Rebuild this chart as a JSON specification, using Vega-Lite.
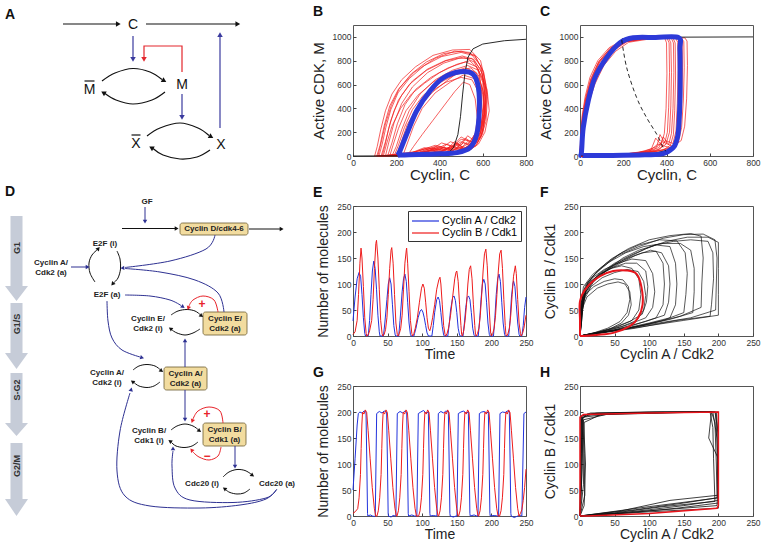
{
"$schema":"https://vega.github.io/schema/vega-lite/v6.json",
"background":"white",
"padding":{"left":0,"top":4,"right":0,"bottom":0},
"columns":3,
"bounds":"flush",
"spacing":{"row":50,"column":54},
"resolve":{"scale":{"color":"independent"},"legend":{"color":"independent"}},
"datasets":{
"aLin":[{"k":1,"c":"flow","x":63,"y":23},{"k":1,"c":"flow","x":117,"y":23},{"k":2,"c":"flow","x":146,"y":23},{"k":2,"c":"flow","x":236,"y":23},{"k":3,"c":"act","x":133,"y":35},{"k":3,"c":"act","x":133,"y":57},{"k":4,"c":"fb","x":182,"y":71},{"k":4,"c":"fb","x":182,"y":45},{"k":4,"c":"fb","x":144,"y":45},{"k":4,"c":"fb","x":144,"y":57},{"k":5,"c":"act","x":182,"y":93},{"k":5,"c":"act","x":182,"y":115},{"k":6,"c":"act","x":220,"y":127},{"k":6,"c":"act","x":220,"y":35},{"k":7,"c":"flow","x":84.5,"y":80},{"k":7,"c":"flow","x":94.5,"y":80},{"k":8,"c":"flow","x":131.5,"y":134},{"k":8,"c":"flow","x":140.5,"y":134}],
"aCur":[{"k":1,"c":"flow","x":102,"y":80},{"k":1,"c":"flow","x":115,"y":72},{"k":1,"c":"flow","x":133,"y":67.5},{"k":1,"c":"flow","x":150,"y":71},{"k":1,"c":"flow","x":162,"y":78.5},{"k":2,"c":"flow","x":165,"y":91},{"k":2,"c":"flow","x":152,"y":99},{"k":2,"c":"flow","x":133,"y":103},{"k":2,"c":"flow","x":116,"y":99},{"k":2,"c":"flow","x":105,"y":92.5},{"k":3,"c":"flow","x":147,"y":135},{"k":3,"c":"flow","x":160,"y":127},{"k":3,"c":"flow","x":180,"y":122},{"k":3,"c":"flow","x":198,"y":127},{"k":3,"c":"flow","x":209,"y":134.5},{"k":4,"c":"flow","x":210,"y":149},{"k":4,"c":"flow","x":197,"y":156},{"k":4,"c":"flow","x":180,"y":158},{"k":4,"c":"flow","x":163,"y":154},{"k":4,"c":"flow","x":153,"y":147.5}],
"aHd":[{"c":"flow","x":117.5,"y":23,"a":90},{"c":"flow","x":237,"y":23,"a":90},{"c":"act","x":133,"y":57.5,"a":180},{"c":"fb","x":144,"y":57.5,"a":180},{"c":"act","x":182,"y":115.5,"a":180},{"c":"act","x":220,"y":34.5,"a":0},{"c":"flow","x":163.5,"y":79.5,"a":120},{"c":"flow","x":104,"y":92,"a":300},{"c":"flow","x":210.5,"y":135.5,"a":120},{"c":"flow","x":152,"y":147,"a":300}],
"aTx":[{"t":"C","x":133,"y":28},{"t":"M","x":89.5,"y":93},{"t":"M","x":182,"y":88},{"t":"X","x":136,"y":147},{"t":"X","x":221,"y":147.5}],
"dPh":[{"k":"G1","y":215,"x":10.5,"x2":22.5},{"k":"G1","y":285,"x":10.5,"x2":22.5},{"k":"G1","y":285,"x":5,"x2":28},{"k":"G1","y":300,"x":16.5,"x2":16.5},{"k":"G1/S","y":302,"x":10.5,"x2":22.5},{"k":"G1/S","y":352,"x":10.5,"x2":22.5},{"k":"G1/S","y":352,"x":5,"x2":28},{"k":"G1/S","y":368,"x":16.5,"x2":16.5},{"k":"S-G2","y":372,"x":10.5,"x2":22.5},{"k":"S-G2","y":422,"x":10.5,"x2":22.5},{"k":"S-G2","y":422,"x":5,"x2":28},{"k":"S-G2","y":435,"x":16.5,"x2":16.5},{"k":"G2/M","y":442,"x":10.5,"x2":22.5},{"k":"G2/M","y":498,"x":10.5,"x2":22.5},{"k":"G2/M","y":498,"x":5,"x2":28},{"k":"G2/M","y":515,"x":16.5,"x2":16.5}],
"dBox":[{"x":180,"x2":248,"y":222,"y2":234},{"x":203,"x2":247,"y":311,"y2":334},{"x":164,"x2":207,"y":366,"y2":389},{"x":203,"x2":246,"y":422,"y2":445}],
"dLin":[{"k":1,"c":"act","x":145,"y":206},{"k":1,"c":"act","x":145,"y":219},{"k":2,"c":"flow","x":122,"y":227.5},{"k":2,"c":"flow","x":175,"y":227.5},{"k":3,"c":"flow","x":249,"y":228},{"k":3,"c":"flow","x":280,"y":228},{"k":4,"c":"act","x":71,"y":266},{"k":4,"c":"act","x":86,"y":266},{"k":5,"c":"act","x":185,"y":366},{"k":5,"c":"act","x":185,"y":341},{"k":6,"c":"act","x":185,"y":389},{"k":6,"c":"act","x":185,"y":417},{"k":7,"c":"act","x":235,"y":445},{"k":7,"c":"act","x":235,"y":464}],
"dCur":[{"k":8,"c":"act","x":215,"y":234},{"k":8,"c":"act","x":206,"y":248},{"k":8,"c":"act","x":170,"y":260},{"k":8,"c":"act","x":125,"y":266.5},
{"k":9,"c":"act","x":224,"y":311},{"k":9,"c":"act","x":218,"y":292},{"k":9,"c":"act","x":195,"y":279},{"k":9,"c":"act","x":160,"y":271},{"k":9,"c":"act","x":125,"y":267.5},
{"k":10,"c":"act","x":125,"y":294},{"k":10,"c":"act","x":150,"y":295},{"k":10,"c":"act","x":170,"y":299},{"k":10,"c":"act","x":181,"y":304.5},
{"k":11,"c":"fb","x":218,"y":311},{"k":11,"c":"fb","x":214,"y":299},{"k":11,"c":"fb","x":203,"y":295},{"k":11,"c":"fb","x":193,"y":299},{"k":11,"c":"fb","x":189,"y":305},
{"k":12,"c":"flow","x":95,"y":281},{"k":12,"c":"flow","x":90,"y":272},{"k":12,"c":"flow","x":89,"y":262},{"k":12,"c":"flow","x":92,"y":254},{"k":12,"c":"flow","x":97,"y":249},
{"k":13,"c":"flow","x":117,"y":250},{"k":13,"c":"flow","x":120,"y":258},{"k":13,"c":"flow","x":120.5,"y":268},{"k":13,"c":"flow","x":118,"y":277},{"k":13,"c":"flow","x":114,"y":281.5},
{"k":14,"c":"flow","x":171,"y":314},{"k":14,"c":"flow","x":178,"y":310},{"k":14,"c":"flow","x":187,"y":308.5},{"k":14,"c":"flow","x":195,"y":310},{"k":14,"c":"flow","x":200,"y":313.5},
{"k":15,"c":"flow","x":200,"y":328},{"k":15,"c":"flow","x":193,"y":332},{"k":15,"c":"flow","x":185,"y":334},{"k":15,"c":"flow","x":177,"y":332},{"k":15,"c":"flow","x":172,"y":329},
{"k":16,"c":"act","x":107,"y":300},{"k":16,"c":"act","x":108,"y":320},{"k":16,"c":"act","x":112,"y":337},{"k":16,"c":"act","x":122,"y":349},{"k":16,"c":"act","x":140,"y":356},
{"k":17,"c":"flow","x":133,"y":369},{"k":17,"c":"flow","x":139,"y":365},{"k":17,"c":"flow","x":147,"y":363.5},{"k":17,"c":"flow","x":155,"y":365},{"k":17,"c":"flow","x":160,"y":368.5},
{"k":18,"c":"flow","x":160,"y":381},{"k":18,"c":"flow","x":154,"y":385},{"k":18,"c":"flow","x":147,"y":386.5},{"k":18,"c":"flow","x":139,"y":385},{"k":18,"c":"flow","x":134,"y":381.5},
{"k":19,"c":"flow","x":171,"y":429},{"k":19,"c":"flow","x":177,"y":425},{"k":19,"c":"flow","x":185,"y":423},{"k":19,"c":"flow","x":193,"y":425},{"k":19,"c":"flow","x":198,"y":428.5},
{"k":20,"c":"flow","x":198,"y":441},{"k":20,"c":"flow","x":192,"y":445},{"k":20,"c":"flow","x":184,"y":446.5},{"k":20,"c":"flow","x":176,"y":445},{"k":20,"c":"flow","x":171.5,"y":441.5},
{"k":21,"c":"fb","x":223,"y":422},{"k":21,"c":"fb","x":220,"y":410},{"k":21,"c":"fb","x":209,"y":406},{"k":21,"c":"fb","x":198,"y":410},{"k":21,"c":"fb","x":193,"y":418},
{"k":22,"c":"fb","x":221,"y":446},{"k":22,"c":"fb","x":218,"y":455},{"k":22,"c":"fb","x":209,"y":459},{"k":22,"c":"fb","x":199,"y":456},{"k":22,"c":"fb","x":193,"y":451},
{"k":23,"c":"flow","x":223,"y":476},{"k":23,"c":"flow","x":229,"y":471},{"k":23,"c":"flow","x":237,"y":468.5},{"k":23,"c":"flow","x":245,"y":469.5},{"k":23,"c":"flow","x":251,"y":473},
{"k":24,"c":"flow","x":250,"y":488},{"k":24,"c":"flow","x":244,"y":492},{"k":24,"c":"flow","x":237,"y":493},{"k":24,"c":"flow","x":230,"y":491.5},{"k":24,"c":"flow","x":226,"y":489},
{"k":25,"c":"act","x":277,"y":488},{"k":25,"c":"act","x":266,"y":498},{"k":25,"c":"act","x":240,"y":504},{"k":25,"c":"act","x":200,"y":507},{"k":25,"c":"act","x":150,"y":505},{"k":25,"c":"act","x":125,"y":495},{"k":25,"c":"act","x":117,"y":470},{"k":25,"c":"act","x":120,"y":430},{"k":25,"c":"act","x":130,"y":392},
{"k":26,"c":"act","x":276,"y":489},{"k":26,"c":"act","x":266,"y":497},{"k":26,"c":"act","x":233,"y":501.5},{"k":26,"c":"act","x":190,"y":499},{"k":26,"c":"act","x":175,"y":487},{"k":26,"c":"act","x":172,"y":465},{"k":26,"c":"act","x":173,"y":450}],
"dHd":[{"c":"act","x":145,"y":220,"a":180},{"c":"flow","x":176,"y":227.5,"a":90},{"c":"flow","x":281,"y":228,"a":90},{"c":"act","x":87,"y":266,"a":90},{"c":"act","x":185,"y":340,"a":0},{"c":"act","x":185,"y":418,"a":180},{"c":"act","x":235,"y":465,"a":180},{"c":"act","x":123,"y":267,"a":265},{"c":"act","x":182.5,"y":305.5,"a":125},{"c":"fb","x":188.5,"y":306.5,"a":200},{"c":"flow","x":98,"y":248,"a":40},{"c":"flow","x":113,"y":282.5,"a":220},{"c":"flow","x":201,"y":314.5,"a":125},{"c":"flow","x":171,"y":328,"a":305},{"c":"act","x":141.5,"y":356.5,"a":105},{"c":"flow","x":161,"y":369.5,"a":125},{"c":"flow","x":133,"y":381,"a":305},{"c":"flow","x":199,"y":429.5,"a":125},{"c":"flow","x":170.5,"y":440.5,"a":305},{"c":"fb","x":192.5,"y":419.5,"a":200},{"c":"fb","x":192,"y":449.5,"a":320},{"c":"flow","x":252,"y":474,"a":125},{"c":"flow","x":225,"y":488,"a":305},{"c":"act","x":131,"y":389,"a":15},{"c":"act","x":173,"y":448,"a":0}],
"dTx":[{"t":"GF","x":147,"y":201},{"t":"Cyclin D/cdk4-6","x":214,"y":228},{"t":"E2F (i)","x":105,"y":243},{"t":"Cyclin A/","x":51,"y":262},{"t":"Cdk2 (a)","x":51,"y":272},{"t":"E2F (a)","x":107,"y":294},{"t":"Cyclin E/","x":148,"y":318},{"t":"Cdk2 (i)","x":148,"y":328},{"t":"Cyclin E/","x":225,"y":318},{"t":"Cdk2 (a)","x":225,"y":328},{"t":"Cyclin A/","x":107,"y":372},{"t":"Cdk2 (i)","x":107,"y":382},{"t":"Cyclin A/","x":185.5,"y":372.5},{"t":"Cdk2 (a)","x":185.5,"y":382.5},{"t":"Cyclin B/","x":149,"y":430},{"t":"Cdk1 (i)","x":149,"y":440},{"t":"Cyclin B/","x":224.5,"y":429},{"t":"Cdk1 (a)","x":224.5,"y":439},{"t":"Cdc20 (i)","x":202,"y":483},{"t":"Cdc20 (a)","x":277,"y":483}],
"dSym":[{"t":"+","x":202,"y":303},{"t":"+","x":207,"y":413},{"t":"−","x":207,"y":455}],
"dPl":[{"t":"G1","x":16.5,"y":247},{"t":"G1/S","x":16.5,"y":323},{"t":"S-G2","x":16.5,"y":389},{"t":"G2/M","x":16.5,"y":465}],
"bK":[{"x":0,"y":0},{"x":300,"y":2},{"x":400,"y":8},{"x":440,"y":25},{"x":465,"y":70},{"x":485,"y":180},{"x":497,"y":330},{"x":507,"y":520},{"x":518,"y":700},{"x":532,"y":830},{"x":555,"y":900},{"x":600,"y":940},{"x":700,"y":968},{"x":800,"y":980}],
"bB":[{"x":205,"y":5},{"x":217,"y":42},{"x":248,"y":182},{"x":294,"y":378},{"x":356,"y":546},{"x":418,"y":657},{"x":495,"y":708},{"x":556,"y":686},{"x":580,"y":573},{"x":584,"y":378},{"x":572,"y":182},{"x":541,"y":70},{"x":480,"y":28},{"x":400,"y":18},{"x":341,"y":14},{"x":260,"y":10},{"x":217,"y":8},{"x":205,"y":5}],
"bR":[
{"k":1,"x":110,"y":0},{"k":1,"x":125,"y":90},{"k":1,"x":145,"y":260},{"k":1,"x":170,"y":420},{"k":1,"x":210,"y":560},{"k":1,"x":280,"y":700},{"k":1,"x":380,"y":820},{"k":1,"x":470,"y":880},{"k":1,"x":540,"y":870},{"k":1,"x":590,"y":760},{"k":1,"x":610,"y":560},{"k":1,"x":600,"y":330},{"k":1,"x":580,"y":170},{"k":1,"x":550,"y":90},{"k":1,"x":500,"y":120},{"k":1,"x":450,"y":60},{"k":1,"x":380,"y":90},{"k":1,"x":300,"y":40},{"k":1,"x":220,"y":20},{"k":1,"x":150,"y":5},{"k":1,"x":110,"y":0},
{"k":2,"x":130,"y":0},{"k":2,"x":150,"y":120},{"k":2,"x":175,"y":300},{"k":2,"x":210,"y":470},{"k":2,"x":260,"y":600},{"k":2,"x":340,"y":720},{"k":2,"x":430,"y":800},{"k":2,"x":510,"y":830},{"k":2,"x":560,"y":790},{"k":2,"x":600,"y":650},{"k":2,"x":615,"y":450},{"k":2,"x":595,"y":250},{"k":2,"x":565,"y":130},{"k":2,"x":520,"y":70},{"k":2,"x":470,"y":100},{"k":2,"x":420,"y":40},{"k":2,"x":350,"y":70},{"k":2,"x":280,"y":30},{"k":2,"x":200,"y":10},{"k":2,"x":130,"y":0},
{"k":3,"x":160,"y":0},{"k":3,"x":180,"y":110},{"k":3,"x":205,"y":270},{"k":3,"x":240,"y":430},{"k":3,"x":290,"y":560},{"k":3,"x":360,"y":660},{"k":3,"x":440,"y":740},{"k":3,"x":520,"y":790},{"k":3,"x":570,"y":750},{"k":3,"x":600,"y":620},{"k":3,"x":605,"y":420},{"k":3,"x":590,"y":240},{"k":3,"x":560,"y":110},{"k":3,"x":510,"y":60},{"k":3,"x":460,"y":80},{"k":3,"x":400,"y":30},{"k":3,"x":330,"y":60},{"k":3,"x":260,"y":20},{"k":3,"x":190,"y":5},{"k":3,"x":160,"y":0},
{"k":4,"x":180,"y":0},{"k":4,"x":200,"y":80},{"k":4,"x":225,"y":220},{"k":4,"x":260,"y":380},{"k":4,"x":310,"y":520},{"k":4,"x":380,"y":640},{"k":4,"x":460,"y":720},{"k":4,"x":530,"y":760},{"k":4,"x":580,"y":720},{"k":4,"x":620,"y":560},{"k":4,"x":630,"y":380},{"k":4,"x":610,"y":200},{"k":4,"x":580,"y":100},{"k":4,"x":540,"y":50},{"k":4,"x":490,"y":70},{"k":4,"x":430,"y":25},{"k":4,"x":360,"y":50},{"k":4,"x":290,"y":15},{"k":4,"x":210,"y":5},{"k":4,"x":180,"y":0},
{"k":5,"x":100,"y":0},{"k":5,"x":112,"y":80},{"k":5,"x":128,"y":220},{"k":5,"x":150,"y":380},{"k":5,"x":180,"y":520},{"k":5,"x":225,"y":640},{"k":5,"x":290,"y":750},{"k":5,"x":370,"y":845},{"k":5,"x":460,"y":890},{"k":5,"x":540,"y":895},{"k":5,"x":590,"y":800},{"k":5,"x":615,"y":600},{"k":5,"x":612,"y":380},{"k":5,"x":590,"y":200},{"k":5,"x":555,"y":120},{"k":5,"x":500,"y":140},{"k":5,"x":450,"y":60},{"k":5,"x":380,"y":80},{"k":5,"x":300,"y":30},{"k":5,"x":200,"y":10},{"k":5,"x":100,"y":0},
{"k":6,"x":200,"y":0},{"k":6,"x":220,"y":100},{"k":6,"x":250,"y":260},{"k":6,"x":300,"y":420},{"k":6,"x":360,"y":540},{"k":6,"x":430,"y":620},{"k":6,"x":500,"y":660},{"k":6,"x":550,"y":640},{"k":6,"x":580,"y":540},{"k":6,"x":590,"y":380},{"k":6,"x":575,"y":220},{"k":6,"x":540,"y":110},{"k":6,"x":500,"y":70},{"k":6,"x":450,"y":50},{"k":6,"x":400,"y":80},{"k":6,"x":340,"y":30},{"k":6,"x":260,"y":15},{"k":6,"x":200,"y":0},
{"k":7,"x":140,"y":0},{"k":7,"x":155,"y":100},{"k":7,"x":180,"y":250},{"k":7,"x":220,"y":400},{"k":7,"x":270,"y":520},{"k":7,"x":330,"y":610},{"k":7,"x":400,"y":700},{"k":7,"x":480,"y":770},{"k":7,"x":540,"y":800},{"k":7,"x":580,"y":730},{"k":7,"x":595,"y":560},{"k":7,"x":590,"y":360},{"k":7,"x":570,"y":200},{"k":7,"x":540,"y":120},{"k":7,"x":500,"y":160},{"k":7,"x":460,"y":80},{"k":7,"x":410,"y":110},{"k":7,"x":350,"y":40},{"k":7,"x":260,"y":20},{"k":7,"x":170,"y":5},{"k":7,"x":140,"y":0},
{"k":8,"x":230,"y":0},{"k":8,"x":250,"y":100},{"k":8,"x":280,"y":250},{"k":8,"x":320,"y":400},{"k":8,"x":380,"y":530},{"k":8,"x":450,"y":620},{"k":8,"x":510,"y":680},{"k":8,"x":560,"y":650},{"k":8,"x":590,"y":520},{"k":8,"x":600,"y":360},{"k":8,"x":590,"y":200},{"k":8,"x":560,"y":100},{"k":8,"x":520,"y":60},{"k":8,"x":470,"y":40},{"k":8,"x":420,"y":70},{"k":8,"x":360,"y":25},{"k":8,"x":280,"y":10},{"k":8,"x":230,"y":0},
{"k":9,"x":120,"y":0},{"k":9,"x":135,"y":100},{"k":9,"x":152,"y":240},{"k":9,"x":175,"y":390},{"k":9,"x":208,"y":530},{"k":9,"x":260,"y":650},{"k":9,"x":330,"y":760},{"k":9,"x":410,"y":835},{"k":9,"x":500,"y":870},{"k":9,"x":565,"y":840},{"k":9,"x":605,"y":700},{"k":9,"x":622,"y":500},{"k":9,"x":615,"y":290},{"k":9,"x":590,"y":150},{"k":9,"x":550,"y":80},{"k":9,"x":510,"y":110},{"k":9,"x":460,"y":40},{"k":9,"x":390,"y":70},{"k":9,"x":310,"y":25},{"k":9,"x":200,"y":8},{"k":9,"x":120,"y":0},
{"k":10,"x":250,"y":0},{"k":10,"x":280,"y":80},{"k":10,"x":320,"y":180},{"k":10,"x":370,"y":300},{"k":10,"x":420,"y":420},{"k":10,"x":470,"y":540},{"k":10,"x":510,"y":620},{"k":10,"x":540,"y":600},{"k":10,"x":565,"y":480},{"k":10,"x":575,"y":320},{"k":10,"x":565,"y":180},{"k":10,"x":540,"y":90},{"k":10,"x":500,"y":50},{"k":10,"x":450,"y":80},{"k":10,"x":400,"y":30},{"k":10,"x":330,"y":20},{"k":10,"x":250,"y":0},
{"k":11,"x":170,"y":0},{"k":11,"x":185,"y":90},{"k":11,"x":210,"y":230},{"k":11,"x":245,"y":380},{"k":11,"x":300,"y":510},{"k":11,"x":370,"y":620},{"k":11,"x":450,"y":700},{"k":11,"x":520,"y":740},{"k":11,"x":570,"y":700},{"k":11,"x":600,"y":560},{"k":11,"x":610,"y":380},{"k":11,"x":600,"y":210},{"k":11,"x":575,"y":110},{"k":11,"x":530,"y":170},{"k":11,"x":500,"y":90},{"k":11,"x":450,"y":120},{"k":11,"x":400,"y":50},{"k":11,"x":330,"y":70},{"k":11,"x":260,"y":20},{"k":11,"x":170,"y":0},
{"k":12,"x":150,"y":0},{"k":12,"x":165,"y":110},{"k":12,"x":190,"y":280},{"k":12,"x":225,"y":440},{"k":12,"x":275,"y":580},{"k":12,"x":345,"y":700},{"k":12,"x":420,"y":780},{"k":12,"x":490,"y":820},{"k":12,"x":550,"y":820},{"k":12,"x":590,"y":730},{"k":12,"x":615,"y":560},{"k":12,"x":615,"y":360},{"k":12,"x":600,"y":190},{"k":12,"x":570,"y":90},{"k":12,"x":530,"y":40},{"k":12,"x":480,"y":110},{"k":12,"x":430,"y":30},{"k":12,"x":360,"y":50},{"k":12,"x":280,"y":15},{"k":12,"x":150,"y":0},
{"k":13,"x":115,"y":0},{"k":13,"x":130,"y":110},{"k":13,"x":150,"y":270},{"k":13,"x":178,"y":430},{"k":13,"x":215,"y":570},{"k":13,"x":270,"y":690},{"k":13,"x":340,"y":790},{"k":13,"x":420,"y":860},{"k":13,"x":500,"y":880},{"k":13,"x":560,"y":850},{"k":13,"x":600,"y":720},{"k":13,"x":618,"y":520},{"k":13,"x":612,"y":320},{"k":13,"x":592,"y":170},{"k":13,"x":560,"y":100},{"k":13,"x":520,"y":150},{"k":13,"x":480,"y":70},{"k":13,"x":430,"y":100},{"k":13,"x":370,"y":40},{"k":13,"x":290,"y":20},{"k":13,"x":180,"y":5},{"k":13,"x":115,"y":0},
{"k":14,"x":190,"y":0},{"k":14,"x":210,"y":90},{"k":14,"x":238,"y":240},{"k":14,"x":275,"y":390},{"k":14,"x":325,"y":510},{"k":14,"x":395,"y":610},{"k":14,"x":470,"y":680},{"k":14,"x":530,"y":710},{"k":14,"x":575,"y":660},{"k":14,"x":600,"y":520},{"k":14,"x":605,"y":350},{"k":14,"x":590,"y":190},{"k":14,"x":560,"y":90},{"k":14,"x":520,"y":40},{"k":14,"x":480,"y":90},{"k":14,"x":440,"y":40},{"k":14,"x":380,"y":60},{"k":14,"x":310,"y":20},{"k":14,"x":230,"y":5},{"k":14,"x":190,"y":0},
{"k":15,"x":135,"y":0},{"k":15,"x":148,"y":90},{"k":15,"x":165,"y":230},{"k":15,"x":190,"y":380},{"k":15,"x":225,"y":510},{"k":15,"x":275,"y":630},{"k":15,"x":345,"y":730},{"k":15,"x":425,"y":800},{"k":15,"x":505,"y":840},{"k":15,"x":560,"y":810},{"k":15,"x":598,"y":690},{"k":15,"x":612,"y":500},{"k":15,"x":605,"y":300},{"k":15,"x":585,"y":160},{"k":15,"x":555,"y":90},{"k":15,"x":515,"y":60},{"k":15,"x":470,"y":120},{"k":15,"x":430,"y":50},{"k":15,"x":370,"y":70},{"k":15,"x":300,"y":25},{"k":15,"x":200,"y":6},{"k":15,"x":135,"y":0},
{"k":16,"x":210,"y":0},{"k":16,"x":235,"y":110},{"k":16,"x":265,"y":270},{"k":16,"x":310,"y":420},{"k":16,"x":370,"y":540},{"k":16,"x":440,"y":640},{"k":16,"x":500,"y":720},{"k":16,"x":545,"y":740},{"k":16,"x":580,"y":680},{"k":16,"x":605,"y":520},{"k":16,"x":610,"y":340},{"k":16,"x":595,"y":180},{"k":16,"x":565,"y":80},{"k":16,"x":530,"y":120},{"k":16,"x":490,"y":50},{"k":16,"x":440,"y":70},{"k":16,"x":390,"y":25},{"k":16,"x":320,"y":30},{"k":16,"x":250,"y":8},{"k":16,"x":210,"y":0}],
"cK":[{"k":1,"x":0,"y":2},{"k":1,"x":200,"y":10},{"k":1,"x":350,"y":25},{"k":1,"x":395,"y":45},{"k":2,"x":195,"y":985},{"k":2,"x":300,"y":997},{"k":2,"x":800,"y":1000}],
"cD":[{"x":193,"y":975},{"x":216,"y":741},{"x":262,"y":490},{"x":308,"y":322},{"x":355,"y":182},{"x":385,"y":70},{"x":398,"y":40}],
"cB":[{"x":5,"y":5},{"x":8,"y":60},{"x":15,"y":238},{"x":38,"y":462},{"x":69,"y":657},{"x":123,"y":825},{"x":185,"y":951},{"x":246,"y":993},{"x":350,"y":995},{"x":455,"y":995},{"x":462,"y":900},{"x":463,"y":700},{"x":462,"y":462},{"x":455,"y":210},{"x":445,"y":120},{"x":431,"y":70},{"x":385,"y":20},{"x":300,"y":10},{"x":150,"y":5},{"x":20,"y":4},{"x":5,"y":5}],
"cR":[
{"k":1,"x":0,"y":0},{"k":1,"x":4,"y":160},{"k":1,"x":12,"y":320},{"k":1,"x":28,"y":480},{"k":1,"x":52,"y":640},{"k":1,"x":90,"y":790},{"k":1,"x":145,"y":905},{"k":1,"x":205,"y":968},{"k":1,"x":300,"y":985},{"k":1,"x":410,"y":990},{"k":1,"x":420,"y":950},{"k":1,"x":423,"y":700},{"k":1,"x":420,"y":420},{"k":1,"x":414,"y":200},{"k":1,"x":398,"y":100},{"k":1,"x":360,"y":50},{"k":1,"x":300,"y":25},{"k":1,"x":200,"y":12},{"k":1,"x":100,"y":5},{"k":1,"x":0,"y":0},
{"k":2,"x":0,"y":0},{"k":2,"x":8,"y":130},{"k":2,"x":20,"y":290},{"k":2,"x":40,"y":440},{"k":2,"x":68,"y":600},{"k":2,"x":110,"y":760},{"k":2,"x":165,"y":880},{"k":2,"x":225,"y":955},{"k":2,"x":320,"y":982},{"k":2,"x":430,"y":990},{"k":2,"x":440,"y":950},{"k":2,"x":442,"y":680},{"k":2,"x":438,"y":380},{"k":2,"x":432,"y":180},{"k":2,"x":418,"y":90},{"k":2,"x":380,"y":45},{"k":2,"x":310,"y":30},{"k":2,"x":220,"y":10},{"k":2,"x":110,"y":6},{"k":2,"x":0,"y":0},
{"k":3,"x":0,"y":0},{"k":3,"x":3,"y":180},{"k":3,"x":10,"y":340},{"k":3,"x":24,"y":500},{"k":3,"x":46,"y":660},{"k":3,"x":82,"y":800},{"k":3,"x":135,"y":910},{"k":3,"x":195,"y":970},{"k":3,"x":290,"y":990},{"k":3,"x":455,"y":992},{"k":3,"x":466,"y":960},{"k":3,"x":468,"y":720},{"k":3,"x":465,"y":430},{"k":3,"x":458,"y":220},{"k":3,"x":445,"y":110},{"k":3,"x":410,"y":60},{"k":3,"x":340,"y":35},{"k":3,"x":240,"y":15},{"k":3,"x":120,"y":5},{"k":3,"x":0,"y":0},
{"k":4,"x":0,"y":0},{"k":4,"x":6,"y":150},{"k":4,"x":16,"y":310},{"k":4,"x":34,"y":470},{"k":4,"x":60,"y":630},{"k":4,"x":100,"y":780},{"k":4,"x":155,"y":895},{"k":4,"x":215,"y":962},{"k":4,"x":310,"y":986},{"k":4,"x":470,"y":990},{"k":4,"x":480,"y":960},{"k":4,"x":482,"y":740},{"k":4,"x":478,"y":470},{"k":4,"x":470,"y":240},{"k":4,"x":455,"y":120},{"k":4,"x":420,"y":70},{"k":4,"x":350,"y":40},{"k":4,"x":250,"y":18},{"k":4,"x":120,"y":6},{"k":4,"x":0,"y":0},
{"k":5,"x":0,"y":0},{"k":5,"x":5,"y":140},{"k":5,"x":14,"y":300},{"k":5,"x":32,"y":460},{"k":5,"x":58,"y":620},{"k":5,"x":98,"y":770},{"k":5,"x":152,"y":890},{"k":5,"x":212,"y":960},{"k":5,"x":300,"y":984},{"k":5,"x":392,"y":990},{"k":5,"x":400,"y":950},{"k":5,"x":402,"y":690},{"k":5,"x":398,"y":400},{"k":5,"x":390,"y":190},{"k":5,"x":375,"y":95},{"k":5,"x":350,"y":150},{"k":5,"x":330,"y":60},{"k":5,"x":270,"y":30},{"k":5,"x":180,"y":10},{"k":5,"x":0,"y":0},
{"k":6,"x":0,"y":0},{"k":6,"x":4,"y":170},{"k":6,"x":11,"y":330},{"k":6,"x":26,"y":490},{"k":6,"x":50,"y":650},{"k":6,"x":88,"y":795},{"k":6,"x":140,"y":905},{"k":6,"x":200,"y":968},{"k":6,"x":300,"y":988},{"k":6,"x":485,"y":992},{"k":6,"x":495,"y":965},{"k":6,"x":497,"y":760},{"k":6,"x":493,"y":480},{"k":6,"x":484,"y":250},{"k":6,"x":468,"y":130},{"k":6,"x":430,"y":80},{"k":6,"x":380,"y":120},{"k":6,"x":340,"y":50},{"k":6,"x":260,"y":25},{"k":6,"x":130,"y":8},{"k":6,"x":0,"y":0},
{"k":7,"x":0,"y":0},{"k":7,"x":7,"y":140},{"k":7,"x":18,"y":300},{"k":7,"x":36,"y":460},{"k":7,"x":62,"y":620},{"k":7,"x":104,"y":775},{"k":7,"x":158,"y":890},{"k":7,"x":218,"y":960},{"k":7,"x":310,"y":985},{"k":7,"x":422,"y":990},{"k":7,"x":432,"y":950},{"k":7,"x":434,"y":700},{"k":7,"x":430,"y":400},{"k":7,"x":423,"y":190},{"k":7,"x":410,"y":95},{"k":7,"x":385,"y":160},{"k":7,"x":365,"y":70},{"k":7,"x":300,"y":35},{"k":7,"x":200,"y":12},{"k":7,"x":0,"y":0},
{"k":8,"x":0,"y":0},{"k":8,"x":5,"y":150},{"k":8,"x":13,"y":320},{"k":8,"x":30,"y":480},{"k":8,"x":54,"y":640},{"k":8,"x":92,"y":790},{"k":8,"x":146,"y":900},{"k":8,"x":206,"y":966},{"k":8,"x":300,"y":986},{"k":8,"x":442,"y":990},{"k":8,"x":452,"y":955},{"k":8,"x":454,"y":720},{"k":8,"x":450,"y":440},{"k":8,"x":444,"y":210},{"k":8,"x":430,"y":105},{"k":8,"x":395,"y":130},{"k":8,"x":370,"y":60},{"k":8,"x":310,"y":30},{"k":8,"x":210,"y":12},{"k":8,"x":0,"y":0},
{"k":9,"x":0,"y":0},{"k":9,"x":6,"y":150},{"k":9,"x":15,"y":310},{"k":9,"x":34,"y":470},{"k":9,"x":60,"y":630},{"k":9,"x":100,"y":780},{"k":9,"x":154,"y":895},{"k":9,"x":214,"y":962},{"k":9,"x":300,"y":985},{"k":9,"x":402,"y":990},{"k":9,"x":412,"y":950},{"k":9,"x":414,"y":700},{"k":9,"x":410,"y":410},{"k":9,"x":404,"y":200},{"k":9,"x":392,"y":110},{"k":9,"x":370,"y":180},{"k":9,"x":355,"y":80},{"k":9,"x":300,"y":40},{"k":9,"x":200,"y":15},{"k":9,"x":0,"y":0},
{"k":10,"x":0,"y":0},{"k":10,"x":4,"y":160},{"k":10,"x":12,"y":320},{"k":10,"x":27,"y":480},{"k":10,"x":50,"y":640},{"k":10,"x":86,"y":790},{"k":10,"x":138,"y":902},{"k":10,"x":198,"y":967},{"k":10,"x":300,"y":987},{"k":10,"x":462,"y":991},{"k":10,"x":472,"y":960},{"k":10,"x":474,"y":730},{"k":10,"x":470,"y":450},{"k":10,"x":462,"y":230},{"k":10,"x":448,"y":115},{"k":10,"x":415,"y":70},{"k":10,"x":360,"y":100},{"k":10,"x":320,"y":40},{"k":10,"x":230,"y":15},{"k":10,"x":0,"y":0}],
"eA":[{"t":0,"v":29},{"t":3,"v":75},{"t":6,"v":110},{"t":8.7,"v":122},{"t":11,"v":115},{"t":13,"v":80},{"t":15,"v":35},{"t":17,"v":5},{"t":18,"v":0},{"t":20,"v":3},{"t":21,"v":0},{"t":22,"v":0},{"t":24,"v":30},{"t":26,"v":80},{"t":28,"v":125},{"t":30,"v":144},{"t":32,"v":130},{"t":34,"v":90},{"t":36,"v":40},{"t":38,"v":8},{"t":39,"v":0},{"t":42,"v":0},{"t":44,"v":0},{"t":46,"v":25},{"t":49,"v":70},{"t":51,"v":100},{"t":53,"v":112},{"t":55,"v":100},{"t":57,"v":60},{"t":59,"v":20},{"t":61,"v":2},{"t":62,"v":0},{"t":65,"v":0},{"t":66,"v":0},{"t":68,"v":30},{"t":71,"v":85},{"t":73,"v":110},{"t":75,"v":119},{"t":77,"v":105},{"t":79,"v":65},{"t":81,"v":25},{"t":83,"v":3},{"t":84,"v":0},{"t":88,"v":0},{"t":89,"v":5},{"t":91,"v":15},{"t":94,"v":35},{"t":97,"v":48},{"t":99,"v":51},{"t":101,"v":46},{"t":103,"v":35},{"t":105,"v":20},{"t":107,"v":6},{"t":109,"v":0},{"t":112,"v":0},{"t":114,"v":0},{"t":116,"v":20},{"t":118,"v":45},{"t":121,"v":70},{"t":123,"v":75},{"t":125,"v":68},{"t":127,"v":45},{"t":129,"v":18},{"t":131,"v":2},{"t":132,"v":0},{"t":136,"v":0},{"t":137,"v":0},{"t":139,"v":22},{"t":141,"v":50},{"t":144,"v":74},{"t":146,"v":77},{"t":148,"v":68},{"t":150,"v":45},{"t":152,"v":15},{"t":154,"v":2},{"t":155,"v":0},{"t":158,"v":0},{"t":159,"v":0},{"t":161,"v":25},{"t":163,"v":55},{"t":165,"v":74},{"t":167,"v":77},{"t":169,"v":70},{"t":171,"v":45},{"t":173,"v":15},{"t":175,"v":1},{"t":176,"v":0},{"t":180,"v":0},{"t":181,"v":0},{"t":183,"v":30},{"t":185,"v":70},{"t":187,"v":100},{"t":189,"v":109},{"t":191,"v":100},{"t":193,"v":65},{"t":195,"v":25},{"t":197,"v":3},{"t":198,"v":0},{"t":201,"v":0},{"t":203,"v":0},{"t":205,"v":35},{"t":207,"v":80},{"t":209,"v":110},{"t":211,"v":119},{"t":213,"v":105},{"t":215,"v":65},{"t":217,"v":25},{"t":219,"v":3},{"t":220,"v":0},{"t":224,"v":0},{"t":225,"v":0},{"t":227,"v":30},{"t":229,"v":75},{"t":231,"v":100},{"t":232,"v":106},{"t":234,"v":95},{"t":236,"v":60},{"t":238,"v":25},{"t":240,"v":3},{"t":241,"v":0},{"t":244,"v":0},{"t":246,"v":20},{"t":248,"v":55},{"t":250,"v":75}],
"eB":[{"t":0,"v":3},{"t":3,"v":8},{"t":6,"v":30},{"t":8,"v":80},{"t":10,"v":140},{"t":11.6,"v":169},{"t":13,"v":150},{"t":15,"v":95},{"t":17,"v":35},{"t":19,"v":5},{"t":20,"v":0},{"t":22,"v":2},{"t":24,"v":10},{"t":27,"v":30},{"t":29,"v":70},{"t":31,"v":130},{"t":33,"v":178},{"t":34,"v":184},{"t":36,"v":150},{"t":38,"v":90},{"t":40,"v":30},{"t":42,"v":5},{"t":43,"v":0},{"t":45,"v":3},{"t":47,"v":12},{"t":49,"v":35},{"t":51,"v":80},{"t":53,"v":130},{"t":55,"v":165},{"t":56,"v":170},{"t":58,"v":140},{"t":60,"v":80},{"t":62,"v":25},{"t":64,"v":3},{"t":65,"v":0},{"t":67,"v":5},{"t":69,"v":15},{"t":71,"v":40},{"t":73,"v":90},{"t":75,"v":140},{"t":77,"v":165},{"t":77.5,"v":169},{"t":79,"v":140},{"t":81,"v":85},{"t":83,"v":30},{"t":85,"v":5},{"t":86,"v":0},{"t":88,"v":5},{"t":90,"v":15},{"t":93,"v":35},{"t":96,"v":65},{"t":99,"v":92},{"t":101,"v":100},{"t":103,"v":92},{"t":105,"v":65},{"t":107,"v":35},{"t":109,"v":15},{"t":111,"v":10},{"t":113,"v":20},{"t":115,"v":35},{"t":118,"v":60},{"t":121,"v":90},{"t":124,"v":108},{"t":125.7,"v":113},{"t":127,"v":100},{"t":129,"v":60},{"t":131,"v":20},{"t":133,"v":3},{"t":134,"v":0},{"t":136,"v":5},{"t":138,"v":15},{"t":141,"v":40},{"t":144,"v":75},{"t":147,"v":110},{"t":149,"v":123},{"t":150,"v":125},{"t":152,"v":105},{"t":154,"v":60},{"t":156,"v":20},{"t":157,"v":3},{"t":158,"v":0},{"t":160,"v":10},{"t":162,"v":30},{"t":164,"v":60},{"t":166,"v":100},{"t":168,"v":128},{"t":170,"v":135},{"t":172,"v":110},{"t":174,"v":60},{"t":176,"v":20},{"t":177,"v":3},{"t":178,"v":0},{"t":180,"v":5},{"t":182,"v":15},{"t":184,"v":40},{"t":186,"v":80},{"t":188,"v":125},{"t":190,"v":158},{"t":192,"v":167},{"t":194,"v":135},{"t":196,"v":75},{"t":198,"v":25},{"t":199,"v":5},{"t":200,"v":0},{"t":202,"v":5},{"t":204,"v":15},{"t":206,"v":40},{"t":208,"v":80},{"t":210,"v":125},{"t":212,"v":158},{"t":214,"v":165},{"t":216,"v":130},{"t":218,"v":70},{"t":220,"v":20},{"t":221,"v":3},{"t":222,"v":0},{"t":224,"v":5},{"t":226,"v":15},{"t":228,"v":40},{"t":230,"v":80},{"t":232,"v":115},{"t":234.6,"v":135},{"t":236,"v":120},{"t":238,"v":70},{"t":240,"v":25},{"t":242,"v":5},{"t":243,"v":0},{"t":245,"v":5},{"t":247,"v":15},{"t":250,"v":40}],
"fR":[{"x":0,"y":0},{"x":0,"y":30},{"x":0,"y":67},{"x":9.6,"y":93},{"x":29,"y":115},{"x":48,"y":125},{"x":67,"y":126},{"x":82,"y":119},{"x":89,"y":93},{"x":90.5,"y":61},{"x":84,"y":35},{"x":72,"y":19},{"x":48,"y":6},{"x":24,"y":2},{"x":5,"y":0},{"x":0,"y":0}],
"fK":[
{"k":1,"x":0,"y":0},{"k":1,"x":2,"y":30},{"k":1,"x":3,"y":60},{"k":1,"x":8,"y":80},{"k":1,"x":20,"y":95},{"k":1,"x":35,"y":105},{"k":1,"x":50,"y":110},{"k":1,"x":62,"y":108},{"k":1,"x":70,"y":95},{"k":1,"x":72,"y":70},{"k":1,"x":68,"y":45},{"k":1,"x":58,"y":28},{"k":1,"x":40,"y":15},{"k":1,"x":20,"y":6},{"k":1,"x":0,"y":0},
{"k":2,"x":0,"y":0},{"k":2,"x":1,"y":40},{"k":2,"x":4,"y":80},{"k":2,"x":12,"y":100},{"k":2,"x":28,"y":118},{"k":2,"x":45,"y":130},{"k":2,"x":60,"y":135},{"k":2,"x":75,"y":130},{"k":2,"x":85,"y":110},{"k":2,"x":88,"y":80},{"k":2,"x":85,"y":50},{"k":2,"x":75,"y":30},{"k":2,"x":55,"y":18},{"k":2,"x":30,"y":8},{"k":2,"x":0,"y":0},
{"k":3,"x":0,"y":0},{"k":3,"x":2,"y":50},{"k":3,"x":6,"y":90},{"k":3,"x":18,"y":112},{"k":3,"x":35,"y":128},{"k":3,"x":55,"y":140},{"k":3,"x":75,"y":148},{"k":3,"x":95,"y":145},{"k":3,"x":105,"y":120},{"k":3,"x":108,"y":85},{"k":3,"x":105,"y":55},{"k":3,"x":95,"y":35},{"k":3,"x":70,"y":22},{"k":3,"x":40,"y":10},{"k":3,"x":0,"y":0},
{"k":4,"x":0,"y":0},{"k":4,"x":3,"y":35},{"k":4,"x":5,"y":75},{"k":4,"x":15,"y":100},{"k":4,"x":30,"y":120},{"k":4,"x":50,"y":138},{"k":4,"x":70,"y":150},{"k":4,"x":90,"y":160},{"k":4,"x":110,"y":163},{"k":4,"x":120,"y":140},{"k":4,"x":122,"y":100},{"k":4,"x":120,"y":60},{"k":4,"x":110,"y":35},{"k":4,"x":80,"y":22},{"k":4,"x":45,"y":10},{"k":4,"x":0,"y":0},
{"k":5,"x":0,"y":0},{"k":5,"x":2,"y":45},{"k":5,"x":8,"y":85},{"k":5,"x":22,"y":110},{"k":5,"x":42,"y":130},{"k":5,"x":62,"y":150},{"k":5,"x":85,"y":165},{"k":5,"x":110,"y":175},{"k":5,"x":130,"y":172},{"k":5,"x":138,"y":140},{"k":5,"x":140,"y":100},{"k":5,"x":138,"y":60},{"k":5,"x":130,"y":35},{"k":5,"x":100,"y":25},{"k":5,"x":55,"y":12},{"k":5,"x":0,"y":0},
{"k":6,"x":0,"y":0},{"k":6,"x":1,"y":55},{"k":6,"x":5,"y":95},{"k":6,"x":18,"y":118},{"k":6,"x":38,"y":140},{"k":6,"x":60,"y":160},{"k":6,"x":85,"y":175},{"k":6,"x":115,"y":185},{"k":6,"x":140,"y":183},{"k":6,"x":152,"y":160},{"k":6,"x":155,"y":120},{"k":6,"x":153,"y":80},{"k":6,"x":150,"y":45},{"k":6,"x":120,"y":30},{"k":6,"x":70,"y":15},{"k":6,"x":0,"y":0},
{"k":7,"x":0,"y":0},{"k":7,"x":3,"y":60},{"k":7,"x":10,"y":100},{"k":7,"x":25,"y":125},{"k":7,"x":45,"y":148},{"k":7,"x":70,"y":168},{"k":7,"x":100,"y":185},{"k":7,"x":130,"y":193},{"k":7,"x":160,"y":197},{"k":7,"x":175,"y":192},{"k":7,"x":178,"y":150},{"k":7,"x":176,"y":100},{"k":7,"x":175,"y":55},{"k":7,"x":145,"y":38},{"k":7,"x":90,"y":20},{"k":7,"x":0,"y":0},
{"k":8,"x":0,"y":0},{"k":8,"x":2,"y":40},{"k":8,"x":7,"y":78},{"k":8,"x":20,"y":105},{"k":8,"x":40,"y":128},{"k":8,"x":65,"y":148},{"k":8,"x":95,"y":168},{"k":8,"x":125,"y":182},{"k":8,"x":155,"y":190},{"k":8,"x":185,"y":190},{"k":8,"x":200,"y":180},{"k":8,"x":200,"y":130},{"k":8,"x":200,"y":80},{"k":8,"x":200,"y":40},{"k":8,"x":150,"y":30},{"k":8,"x":90,"y":18},{"k":8,"x":40,"y":8},{"k":8,"x":0,"y":0},
{"k":9,"x":0,"y":0},{"k":9,"x":4,"y":70},{"k":9,"x":12,"y":105},{"k":9,"x":30,"y":130},{"k":9,"x":55,"y":155},{"k":9,"x":85,"y":172},{"k":9,"x":120,"y":188},{"k":9,"x":150,"y":195},{"k":9,"x":178,"y":196},{"k":9,"x":195,"y":185},{"k":9,"x":198,"y":150},{"k":9,"x":197,"y":100},{"k":9,"x":196,"y":50},{"k":9,"x":160,"y":35},{"k":9,"x":100,"y":22},{"k":9,"x":0,"y":0},
{"k":10,"x":0,"y":0},{"k":10,"x":2,"y":25},{"k":10,"x":4,"y":55},{"k":10,"x":10,"y":75},{"k":10,"x":25,"y":92},{"k":10,"x":40,"y":100},{"k":10,"x":55,"y":104},{"k":10,"x":65,"y":100},{"k":10,"x":72,"y":85},{"k":10,"x":74,"y":60},{"k":10,"x":70,"y":40},{"k":10,"x":60,"y":25},{"k":10,"x":45,"y":15},{"k":10,"x":25,"y":7},{"k":10,"x":0,"y":0},
{"k":11,"x":0,"y":0},{"k":11,"x":1,"y":50},{"k":11,"x":5,"y":85},{"k":11,"x":15,"y":105},{"k":11,"x":30,"y":120},{"k":11,"x":48,"y":132},{"k":11,"x":66,"y":140},{"k":11,"x":82,"y":140},{"k":11,"x":95,"y":125},{"k":11,"x":98,"y":95},{"k":11,"x":96,"y":65},{"k":11,"x":90,"y":42},{"k":11,"x":72,"y":28},{"k":11,"x":40,"y":12},{"k":11,"x":0,"y":0},
{"k":12,"x":0,"y":0},{"k":12,"x":3,"y":45},{"k":12,"x":8,"y":85},{"k":12,"x":20,"y":108},{"k":12,"x":38,"y":125},{"k":12,"x":58,"y":140},{"k":12,"x":80,"y":155},{"k":12,"x":102,"y":165},{"k":12,"x":118,"y":160},{"k":12,"x":128,"y":135},{"k":12,"x":130,"y":100},{"k":12,"x":128,"y":65},{"k":12,"x":122,"y":40},{"k":12,"x":95,"y":28},{"k":12,"x":50,"y":12},{"k":12,"x":0,"y":0},
{"k":13,"x":0,"y":0},{"k":13,"x":2,"y":65},{"k":13,"x":8,"y":98},{"k":13,"x":22,"y":120},{"k":13,"x":42,"y":142},{"k":13,"x":66,"y":160},{"k":13,"x":92,"y":172},{"k":13,"x":120,"y":178},{"k":13,"x":145,"y":178},{"k":13,"x":160,"y":165},{"k":13,"x":165,"y":130},{"k":13,"x":165,"y":85},{"k":13,"x":163,"y":45},{"k":13,"x":130,"y":32},{"k":13,"x":75,"y":16},{"k":13,"x":0,"y":0},
{"k":14,"x":0,"y":0},{"k":14,"x":1,"y":30},{"k":14,"x":6,"y":70},{"k":14,"x":16,"y":95},{"k":14,"x":32,"y":112},{"k":14,"x":50,"y":122},{"k":14,"x":68,"y":128},{"k":14,"x":84,"y":124},{"k":14,"x":92,"y":105},{"k":14,"x":95,"y":78},{"k":14,"x":92,"y":50},{"k":14,"x":82,"y":30},{"k":14,"x":60,"y":18},{"k":14,"x":30,"y":8},{"k":14,"x":0,"y":0},
{"k":15,"x":0,"y":0},{"k":15,"x":3,"y":55},{"k":15,"x":9,"y":92},{"k":15,"x":26,"y":118},{"k":15,"x":50,"y":140},{"k":15,"x":78,"y":158},{"k":15,"x":108,"y":175},{"k":15,"x":135,"y":182},{"k":15,"x":160,"y":185},{"k":15,"x":185,"y":182},{"k":15,"x":192,"y":160},{"k":15,"x":193,"y":110},{"k":15,"x":190,"y":60},{"k":15,"x":188,"y":38},{"k":15,"x":140,"y":30},{"k":15,"x":80,"y":15},{"k":15,"x":0,"y":0}],
"gA":[{"t":0,"v":50},{"t":3,"v":110},{"t":6,"v":175},{"t":7.7,"v":197},{"t":10,"v":200},{"t":13,"v":198},{"t":16,"v":202},{"t":18.8,"v":200},{"t":20,"v":100},{"t":21,"v":5},{"t":21.5,"v":0},{"t":25,"v":2},{"t":28,"v":0},{"t":31,"v":-1},{"t":32.2,"v":0},{"t":33.2,"v":100},{"t":34.2,"v":197},{"t":38,"v":201},{"t":42,"v":198},{"t":45,"v":202},{"t":48.6,"v":200},{"t":49.8,"v":100},{"t":50.8,"v":5},{"t":51.3,"v":0},{"t":55,"v":-2},{"t":58,"v":1},{"t":61,"v":0},{"t":62,"v":0},{"t":63,"v":100},{"t":64,"v":197},{"t":68,"v":201},{"t":72,"v":198},{"t":75,"v":202},{"t":77.6,"v":200},{"t":78.8,"v":100},{"t":79.8,"v":5},{"t":80.3,"v":0},{"t":85,"v":2},{"t":89,"v":0},{"t":92.3,"v":0},{"t":93.3,"v":100},{"t":94.4,"v":197},{"t":98,"v":200},{"t":102,"v":203},{"t":105,"v":198},{"t":108.9,"v":200},{"t":110.1,"v":100},{"t":111.1,"v":5},{"t":111.6,"v":0},{"t":116,"v":1},{"t":120,"v":0},{"t":121.3,"v":0},{"t":122.3,"v":100},{"t":123.3,"v":197},{"t":127,"v":201},{"t":131,"v":198},{"t":134,"v":202},{"t":137.8,"v":200},{"t":139,"v":100},{"t":140,"v":5},{"t":140.5,"v":0},{"t":145,"v":-2},{"t":149,"v":0},{"t":150.2,"v":0},{"t":151.2,"v":100},{"t":152.2,"v":197},{"t":156,"v":200},{"t":160,"v":202},{"t":163,"v":198},{"t":166.7,"v":200},{"t":167.9,"v":100},{"t":168.9,"v":5},{"t":169.4,"v":0},{"t":175,"v":2},{"t":179,"v":0},{"t":180.6,"v":0},{"t":181.6,"v":100},{"t":182.6,"v":197},{"t":186,"v":200},{"t":190,"v":201},{"t":193,"v":198},{"t":195.6,"v":200},{"t":196.8,"v":100},{"t":197.8,"v":5},{"t":198.3,"v":0},{"t":204,"v":1},{"t":209,"v":0},{"t":210.4,"v":0},{"t":211.4,"v":100},{"t":212.4,"v":197},{"t":216,"v":200},{"t":220,"v":199},{"t":223,"v":202},{"t":225.9,"v":200},{"t":227.1,"v":100},{"t":228.1,"v":5},{"t":228.6,"v":0},{"t":233,"v":-3},{"t":238,"v":0},{"t":242,"v":1},{"t":244,"v":0},{"t":245.5,"v":100},{"t":247,"v":197},{"t":250,"v":200}],
"gB":[{"t":0,"v":5},{"t":3,"v":8},{"t":6.8,"v":14},{"t":8.8,"v":35},{"t":10.8,"v":80},{"t":11.8,"v":130},{"t":12.8,"v":175},{"t":13.8,"v":200},{"t":15.8,"v":196},{"t":17.8,"v":204},{"t":19.8,"v":199},{"t":21.8,"v":165},{"t":24.8,"v":110},{"t":27.8,"v":55},{"t":30.8,"v":15},{"t":32.8,"v":0},{"t":34.6,"v":0},{"t":36.6,"v":10},{"t":38.6,"v":35},{"t":40.6,"v":80},{"t":41.6,"v":130},{"t":42.6,"v":175},{"t":43.6,"v":200},{"t":45.6,"v":196},{"t":47.6,"v":204},{"t":49.6,"v":199},{"t":51.6,"v":165},{"t":54.6,"v":110},{"t":57.6,"v":55},{"t":60.6,"v":15},{"t":62.6,"v":0},{"t":63.6,"v":0},{"t":65.6,"v":10},{"t":67.6,"v":35},{"t":69.6,"v":80},{"t":70.6,"v":130},{"t":71.6,"v":175},{"t":72.6,"v":200},{"t":74.6,"v":196},{"t":76.6,"v":204},{"t":78.6,"v":199},{"t":80.6,"v":165},{"t":83.6,"v":110},{"t":86.6,"v":55},{"t":89.6,"v":15},{"t":91.6,"v":0},{"t":94.9,"v":0},{"t":96.9,"v":10},{"t":98.9,"v":35},{"t":100.9,"v":80},{"t":101.9,"v":130},{"t":102.9,"v":175},{"t":103.9,"v":200},{"t":105.9,"v":196},{"t":107.9,"v":204},{"t":109.9,"v":199},{"t":111.9,"v":165},{"t":114.9,"v":110},{"t":117.9,"v":55},{"t":120.9,"v":15},{"t":122.9,"v":0},{"t":123.8,"v":0},{"t":125.8,"v":10},{"t":127.8,"v":35},{"t":129.8,"v":80},{"t":130.8,"v":130},{"t":131.8,"v":175},{"t":132.8,"v":200},{"t":134.8,"v":196},{"t":136.8,"v":204},{"t":138.8,"v":199},{"t":140.8,"v":165},{"t":143.8,"v":110},{"t":146.8,"v":55},{"t":149.8,"v":15},{"t":151.8,"v":0},{"t":152.7,"v":0},{"t":154.7,"v":10},{"t":156.7,"v":35},{"t":158.7,"v":80},{"t":159.7,"v":130},{"t":160.7,"v":175},{"t":161.7,"v":200},{"t":163.7,"v":196},{"t":165.7,"v":204},{"t":167.7,"v":199},{"t":169.7,"v":165},{"t":172.7,"v":110},{"t":175.7,"v":55},{"t":178.7,"v":15},{"t":180.7,"v":0},{"t":181.6,"v":0},{"t":183.6,"v":10},{"t":185.6,"v":35},{"t":187.6,"v":80},{"t":188.6,"v":130},{"t":189.6,"v":175},{"t":190.6,"v":200},{"t":192.6,"v":196},{"t":194.6,"v":204},{"t":196.6,"v":199},{"t":198.6,"v":165},{"t":201.6,"v":110},{"t":204.6,"v":55},{"t":207.6,"v":15},{"t":209.6,"v":0},{"t":211.9,"v":0},{"t":213.9,"v":10},{"t":215.9,"v":35},{"t":217.9,"v":80},{"t":218.9,"v":130},{"t":219.9,"v":175},{"t":220.9,"v":200},{"t":222.9,"v":196},{"t":224.9,"v":204},{"t":226.9,"v":199},{"t":228.9,"v":165},{"t":231.9,"v":110},{"t":234.9,"v":55},{"t":237.9,"v":15},{"t":239.9,"v":0},{"t":242,"v":5},{"t":244,"v":12},{"t":246,"v":30},{"t":248,"v":55},{"t":250,"v":90}],
"hR":[{"x":0,"y":0},{"x":0,"y":100},{"x":0,"y":190},{"x":5,"y":195},{"x":100,"y":198},{"x":200,"y":200},{"x":200,"y":150},{"x":200,"y":100},{"x":200,"y":20},{"x":198,"y":15},{"x":100,"y":5},{"x":10,"y":0},{"x":0,"y":0}],
"hK":[
{"k":1,"x":0,"y":0},{"k":1,"x":1,"y":100},{"k":1,"x":2,"y":185},{"k":1,"x":10,"y":196},{"k":1,"x":100,"y":199},{"k":1,"x":200,"y":200},{"k":1,"x":200,"y":100},{"k":1,"x":200,"y":30},{"k":1,"x":150,"y":20},{"k":1,"x":100,"y":12},{"k":1,"x":50,"y":5},{"k":1,"x":0,"y":0},
{"k":2,"x":0,"y":0},{"k":2,"x":3,"y":90},{"k":2,"x":4,"y":190},{"k":2,"x":20,"y":197},{"k":2,"x":120,"y":200},{"k":2,"x":192,"y":200},{"k":2,"x":198,"y":150},{"k":2,"x":199,"y":60},{"k":2,"x":200,"y":25},{"k":2,"x":140,"y":15},{"k":2,"x":70,"y":6},{"k":2,"x":0,"y":0},
{"k":3,"x":0,"y":0},{"k":3,"x":5,"y":60},{"k":3,"x":6,"y":180},{"k":3,"x":30,"y":195},{"k":3,"x":150,"y":199},{"k":3,"x":190,"y":200},{"k":3,"x":195,"y":180},{"k":3,"x":197,"y":100},{"k":3,"x":198,"y":35},{"k":3,"x":150,"y":25},{"k":3,"x":80,"y":12},{"k":3,"x":0,"y":0},
{"k":4,"x":0,"y":0},{"k":4,"x":2,"y":120},{"k":4,"x":3,"y":192},{"k":4,"x":15,"y":198},{"k":4,"x":100,"y":200},{"k":4,"x":195,"y":200},{"k":4,"x":200,"y":160},{"k":4,"x":200,"y":80},{"k":4,"x":200,"y":15},{"k":4,"x":100,"y":8},{"k":4,"x":0,"y":0},
{"k":5,"x":0,"y":0},{"k":5,"x":6,"y":20},{"k":5,"x":8,"y":100},{"k":5,"x":5,"y":185},{"k":5,"x":40,"y":196},{"k":5,"x":140,"y":199},{"k":5,"x":188,"y":200},{"k":5,"x":192,"y":170},{"k":5,"x":193,"y":110},{"k":5,"x":195,"y":28},{"k":5,"x":120,"y":18},{"k":5,"x":50,"y":6},{"k":5,"x":0,"y":0},
{"k":6,"x":0,"y":0},{"k":6,"x":2,"y":50},{"k":6,"x":4,"y":150},{"k":6,"x":2,"y":193},{"k":6,"x":25,"y":198},{"k":6,"x":110,"y":200},{"k":6,"x":196,"y":200},{"k":6,"x":199,"y":120},{"k":6,"x":200,"y":40},{"k":6,"x":130,"y":30},{"k":6,"x":60,"y":10},{"k":6,"x":0,"y":0},
{"k":7,"x":0,"y":0},{"k":7,"x":1,"y":80},{"k":7,"x":3,"y":188},{"k":7,"x":12,"y":194},{"k":7,"x":80,"y":198},{"k":7,"x":170,"y":200},{"k":7,"x":197,"y":199},{"k":7,"x":200,"y":140},{"k":7,"x":199,"y":50},{"k":7,"x":198,"y":20},{"k":7,"x":120,"y":12},{"k":7,"x":0,"y":0},
{"k":8,"x":0,"y":0},{"k":8,"x":7,"y":40},{"k":8,"x":6,"y":120},{"k":8,"x":4,"y":190},{"k":8,"x":50,"y":197},{"k":8,"x":160,"y":200},{"k":8,"x":190,"y":200},{"k":8,"x":186,"y":150},{"k":8,"x":200,"y":110},{"k":8,"x":200,"y":35},{"k":8,"x":160,"y":28},{"k":8,"x":100,"y":18},{"k":8,"x":0,"y":0}]
},
"concat":[
{"width":299,"height":131,"title":{"text":"A","dx":5,"dy":10},
 "encoding":{"x":{"field":"x","type":"quantitative","scale":{"domain":[0,299],"nice":false,"zero":false},"axis":null},
  "y":{"field":"y","type":"quantitative","scale":{"domain":[24,155],"nice":false,"zero":false,"reverse":true},"axis":null}},
 "layer":[
  {"data":{"name":"aLin"},"mark":{"type":"line","strokeWidth":1.2},"encoding":{"detail":{"field":"k","type":"nominal"},"order":{"value":null},"color":{"field":"c","type":"nominal","scale":{"domain":["flow","act","fb"],"range":["#111111","#3a3a9e","#e3262c"]},"legend":null}}},
  {"data":{"name":"aCur"},"mark":{"type":"line","strokeWidth":1.2,"interpolate":"cardinal"},"encoding":{"detail":{"field":"k","type":"nominal"},"order":{"value":null},"color":{"field":"c","type":"nominal","legend":null}}},
  {"data":{"name":"aHd"},"mark":{"type":"point","shape":"triangle","filled":true,"size":30,"opacity":1},"encoding":{"angle":{"field":"a","type":"quantitative","scale":{"domain":[0,360],"range":[0,360]}},"color":{"field":"c","type":"nominal","legend":null}}},
  {"data":{"name":"aTx"},"mark":{"type":"text","fontSize":14,"baseline":"alphabetic","color":"#111"},"encoding":{"text":{"field":"t"}}}
 ]},
{"width":173,"height":131,"title":{"text":"B","dx":-40},"view":{"stroke":"#555"},
 "encoding":{"x":{"field":"x","type":"quantitative","scale":{"domain":[0,800],"nice":false,"zero":false},"axis":{"values":[0,200,400,600,800],"title":"Cyclin, C","titleFontSize":15}},
  "y":{"field":"y","type":"quantitative","scale":{"domain":[0,1100],"nice":false},"axis":{"values":[0,200,400,600,800,1000],"title":"Active CDK, M","titleFontSize":15}}},
 "layer":[
  {"data":{"name":"bR"},"mark":{"type":"line","color":"#f21d1d","strokeWidth":0.7},"encoding":{"detail":{"field":"k","type":"nominal"},"order":{"value":null}}},
  {"data":{"name":"bK"},"mark":{"type":"line","color":"#111111","strokeWidth":0.9},"encoding":{"order":{"value":null}}},
  {"data":{"name":"bB"},"mark":{"type":"line","color":"#2d3ad8","strokeWidth":5,"interpolate":"cardinal"},"encoding":{"order":{"value":null}}}
 ]},
{"width":173,"height":131,"title":{"text":"C","dx":-40},"view":{"stroke":"#555"},
 "encoding":{"x":{"field":"x","type":"quantitative","scale":{"domain":[0,800],"nice":false,"zero":false},"axis":{"values":[0,200,400,600,800],"title":"Cyclin, C","titleFontSize":15}},
  "y":{"field":"y","type":"quantitative","scale":{"domain":[0,1100],"nice":false},"axis":{"values":[0,200,400,600,800,1000],"title":"Active CDK, M","titleFontSize":15}}},
 "layer":[
  {"data":{"name":"cR"},"mark":{"type":"line","color":"#f21d1d","strokeWidth":0.7},"encoding":{"detail":{"field":"k","type":"nominal"},"order":{"value":null}}},
  {"data":{"name":"cK"},"mark":{"type":"line","color":"#111111","strokeWidth":0.9},"encoding":{"detail":{"field":"k","type":"nominal"},"order":{"value":null}}},
  {"data":{"name":"cB"},"mark":{"type":"line","color":"#2d3ad8","strokeWidth":5,"interpolate":"cardinal"},"encoding":{"order":{"value":null}}},
  {"data":{"name":"cD"},"mark":{"type":"line","color":"#111111","strokeWidth":0.9,"strokeDash":[4,3],"interpolate":"cardinal"},"encoding":{"order":{"value":null}}}
 ]},
{"width":299,"height":130,"title":{"text":"D","dx":5,"dy":7},
 "encoding":{"x":{"field":"x","type":"quantitative","scale":{"domain":[0,299],"nice":false,"zero":false},"axis":null},
  "y":{"field":"y","type":"quantitative","scale":{"domain":[205,335],"nice":false,"zero":false,"reverse":true},"axis":null}},
 "layer":[
  {"data":{"name":"dPh"},"mark":{"type":"area","orient":"horizontal","color":"#c6ccd8"},"encoding":{"x2":{"field":"x2"},"detail":{"field":"k","type":"nominal"},"order":{"value":null}}},
  {"data":{"name":"dPl"},"mark":{"type":"text","angle":270,"fontSize":9,"fontWeight":"bold","color":"#333333"},"encoding":{"text":{"field":"t"}}},
  {"data":{"name":"dBox"},"mark":{"type":"rect","fill":"#f2dc9f","stroke":"#6b5a30","strokeWidth":0.8,"cornerRadius":2.5},"encoding":{"x2":{"field":"x2"},"y2":{"field":"y2"}}},
  {"data":{"name":"dLin"},"mark":{"type":"line","strokeWidth":1},"encoding":{"detail":{"field":"k","type":"nominal"},"order":{"value":null},"color":{"field":"c","type":"nominal","scale":{"domain":["flow","act","fb"],"range":["#111111","#2e3192","#e8232a"]},"legend":null}}},
  {"data":{"name":"dCur"},"mark":{"type":"line","strokeWidth":1,"interpolate":"cardinal"},"encoding":{"detail":{"field":"k","type":"nominal"},"order":{"value":null},"color":{"field":"c","type":"nominal","legend":null}}},
  {"data":{"name":"dHd"},"mark":{"type":"point","shape":"triangle","filled":true,"size":20,"opacity":1},"encoding":{"angle":{"field":"a","type":"quantitative","scale":{"domain":[0,360],"range":[0,360]}},"color":{"field":"c","type":"nominal","legend":null}}},
  {"data":{"name":"dTx"},"mark":{"type":"text","fontSize":8,"fontWeight":"bold","color":"#222222"},"encoding":{"text":{"field":"t"}}},
  {"data":{"name":"dSym"},"mark":{"type":"text","fontSize":12,"fontWeight":"bold","color":"#e8232a"},"encoding":{"text":{"field":"t"}}}
 ]},
{"width":173,"height":130,"title":{"text":"E","dx":-40,"dy":4},"view":{"stroke":"#555"},
 "encoding":{"x":{"field":"t","type":"quantitative","scale":{"domain":[0,250],"nice":false,"zero":false},"axis":{"values":[0,50,100,150,200,250],"title":"Time"}},
  "y":{"field":"v","type":"quantitative","scale":{"domain":[0,250],"nice":false},"axis":{"values":[0,50,100,150,200,250],"title":"Number of molecules"}}},
 "layer":[
  {"data":{"name":"eA"},"mark":{"type":"line","strokeWidth":1},"encoding":{"order":{"value":null},"color":{"datum":"Cyclin A / Cdk2","type":"nominal","scale":{"domain":["Cyclin A / Cdk2","Cyclin B / Cdk1"],"range":["#2233dd","#ee1c1c"]},"legend":{"orient":"top-right","offset":5,"title":null,"symbolType":"M-1,0L3.5,0","symbolSize":144,"symbolStrokeWidth":1.2,"labelFontSize":11,"padding":3,"rowPadding":0,"strokeColor":"#333333","fillColor":"white","labelOffset":17}}}},
  {"data":{"name":"eB"},"mark":{"type":"line","strokeWidth":1},"encoding":{"order":{"value":null},"color":{"datum":"Cyclin B / Cdk1","type":"nominal"}}}
 ]},
{"width":173,"height":130,"title":{"text":"F","dx":-40,"dy":4},"view":{"stroke":"#555"},
 "encoding":{"x":{"field":"x","type":"quantitative","scale":{"domain":[0,250],"nice":false,"zero":false},"axis":{"values":[0,50,100,150,200,250],"title":"Cyclin A / Cdk2"}},
  "y":{"field":"y","type":"quantitative","scale":{"domain":[0,250],"nice":false},"axis":{"values":[0,50,100,150,200,250],"title":"Cyclin B / Cdk1"}}},
 "layer":[
  {"data":{"name":"fK"},"mark":{"type":"line","color":"#111111","strokeWidth":0.7},"encoding":{"detail":{"field":"k","type":"nominal"},"order":{"value":null}}},
  {"data":{"name":"fR"},"mark":{"type":"line","color":"#e8141b","strokeWidth":2,"interpolate":"cardinal"},"encoding":{"order":{"value":null}}}
 ]},
{"width":299,"height":130,"data":{"values":[{"a":1}]},"mark":{"type":"point","opacity":0},"encoding":{}},
{"width":173,"height":130,"title":{"text":"G","dx":-40,"dy":4},"view":{"stroke":"#555"},
 "encoding":{"x":{"field":"t","type":"quantitative","scale":{"domain":[0,250],"nice":false,"zero":false},"axis":{"values":[0,50,100,150,200,250],"title":"Time"}},
  "y":{"field":"v","type":"quantitative","scale":{"domain":[0,250],"nice":false},"axis":{"values":[0,50,100,150,200,250],"title":"Number of molecules"}}},
 "layer":[
  {"data":{"name":"gA"},"mark":{"type":"line","color":"#2233dd","strokeWidth":1},"encoding":{"order":{"value":null}}},
  {"data":{"name":"gB"},"mark":{"type":"line","color":"#ee1c1c","strokeWidth":1},"encoding":{"order":{"value":null}}}
 ]},
{"width":173,"height":130,"title":{"text":"H","dx":-40,"dy":4},"view":{"stroke":"#555"},
 "encoding":{"x":{"field":"x","type":"quantitative","scale":{"domain":[0,250],"nice":false,"zero":false},"axis":{"values":[0,50,100,150,200,250],"title":"Cyclin A / Cdk2"}},
  "y":{"field":"y","type":"quantitative","scale":{"domain":[0,250],"nice":false},"axis":{"values":[0,50,100,150,200,250],"title":"Cyclin B / Cdk1"}}},
 "layer":[
  {"data":{"name":"hK"},"mark":{"type":"line","color":"#111111","strokeWidth":0.8},"encoding":{"detail":{"field":"k","type":"nominal"},"order":{"value":null}}},
  {"data":{"name":"hR"},"mark":{"type":"line","color":"#e8141b","strokeWidth":1.5},"encoding":{"order":{"value":null}}}
 ]}
],
"config":{
 "font":"Liberation Sans",
 "view":{"stroke":null},
 "axis":{"grid":false,"domain":false,"format":"d","labelFontSize":8.5,"labelColor":"#333333","tickColor":"#444444","tickSize":-3,"labelPadding":5,"titleFontWeight":"normal","titleColor":"#222222","titleFontSize":14,"labelFlush":false,"labelOverlap":false},
 "axisX":{"titlePadding":1},
 "axisY":{"titlePadding":6},
 "title":{"fontSize":14,"fontWeight":"bold","anchor":"start","frame":"group","offset":6,"color":"#111111"}
}
}
